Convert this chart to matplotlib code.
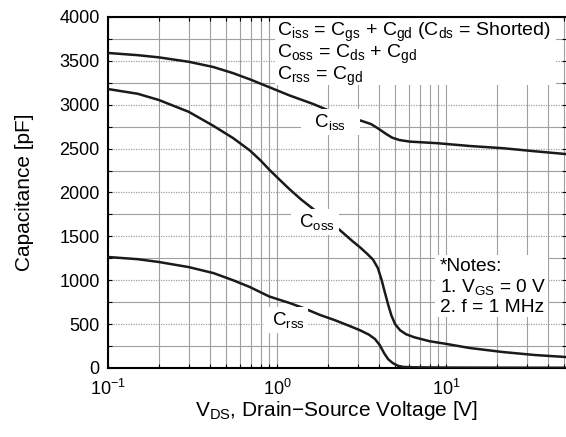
import matplotlib
matplotlib.use("Agg")
import matplotlib.pyplot as plt
from matplotlib.patches import Rectangle
from matplotlib.ticker import LogLocator, FixedLocator, NullFormatter

plt.rcParams["font.family"] = ["Liberation Sans", "DejaVu Sans"]
plt.rcParams["mathtext.fontset"] = "custom"
plt.rcParams["mathtext.rm"] = "Liberation Sans"
plt.rcParams["mathtext.it"] = "Liberation Sans"
plt.rcParams["mathtext.default"] = "regular"

# Input capacitance Ciss vs drain-source voltage
v_iss = [0.1, 0.15, 0.2, 0.3, 0.42, 0.55, 0.69, 0.9, 1.19, 1.63, 2.2, 2.7, 3.18, 3.6,
         4.0, 4.4, 4.8, 5.3, 6.1, 8.85, 13.8, 21.7, 33.5, 51.3]
c_iss = [3590, 3565, 3540, 3490, 3430, 3360, 3290, 3200, 3105, 3010, 2905, 2855, 2815, 2780,
         2725, 2670, 2625, 2598, 2580, 2562, 2530, 2505, 2470, 2438]

# Output capacitance Coss
v_oss = [0.1, 0.15, 0.2, 0.3, 0.42, 0.55, 0.69, 0.8, 0.9, 1.05, 1.19, 1.4, 1.63, 2.0, 2.36,
         2.8, 3.1, 3.4, 3.7, 3.95, 4.15, 4.35, 4.55, 4.75, 5.0, 5.35, 5.8, 6.5, 8.0, 10.0,
         13.8, 21.7, 33.5, 51.3]
c_oss = [3179, 3125, 3054, 2920, 2760, 2620, 2480, 2365, 2260, 2135, 2035, 1915, 1815, 1680, 1570,
         1445, 1375, 1305, 1235, 1140, 1010, 860, 720, 600, 500, 430, 385, 350, 305, 275,
         228, 182, 148, 125]

# Reverse transfer capacitance Crss
v_rss = [0.1, 0.15, 0.2, 0.3, 0.42, 0.55, 0.69, 0.9, 1.19, 1.43, 1.8, 2.2, 2.6, 3.1, 3.5,
         3.8, 4.06, 4.3, 4.55, 4.85, 5.2, 5.6, 6.4, 10.0, 20.0, 51.3]
c_rss = [1265, 1240, 1208, 1150, 1082, 1000, 923, 815, 740, 684, 604, 545, 490, 430, 380,
         330, 260, 170, 100, 55, 25, 12, 8, 5, 4, 3]

y_ticks = [0, 500, 1000, 1500, 2000, 2500, 3000, 3500, 4000]

fig = plt.figure(figsize=(5.66, 4.37), dpi=100)
ax = fig.add_axes([108 / 566, 69 / 437, 458 / 566, 351 / 437])

ax.set_xscale("log")
ax.set_xlim(0.1, 51.3)
ax.set_ylim(0, 4000)
ax.set_yticks(y_ticks)
ax.yaxis.set_minor_locator(FixedLocator([250, 750, 1250, 1750, 2250, 2750, 3250, 3750]))
ax.xaxis.set_major_locator(LogLocator(base=10, numticks=10))
ax.xaxis.set_minor_locator(LogLocator(base=10, subs=range(2, 10), numticks=20))
ax.xaxis.set_minor_formatter(NullFormatter())

# grid: solid vertical lines, dotted on 500 pF, solid on 250 pF
ax.grid(True, axis="x", which="both", color="#a0a0a0", lw=0.8, ls="-")
ax.grid(True, axis="y", which="major", color="#a0a0a0", lw=0.9, ls=(0, (1, 1)))
ax.grid(True, axis="y", which="minor", color="#a0a0a0", lw=0.8, ls="-")
ax.set_axisbelow(True)

ax.tick_params(which="both", direction="in", top=True, right=True, labelsize=13, length=3, width=0.8)
ax.tick_params(axis="x", pad=8)
ax.tick_params(axis="y", pad=6)
for side in ("left", "bottom", "top"):
    ax.spines[side].set_linewidth(1.5)
ax.spines["right"].set_visible(False)

for v, c in ((v_iss, c_iss), (v_oss, c_oss), (v_rss, c_rss)):
    ax.plot(v, c, color="#1a1a1a", lw=1.8, zorder=3)

label_box = dict(facecolor="white", edgecolor="none", pad=2)
ax.text(2.08, 2803, "  C$_{iss}$   ", fontsize=13.5, ha="center", va="center", bbox=label_box, zorder=4)
ax.text(1.68, 1664, " C$_{oss}$ ", fontsize=13.5, ha="center", va="center", bbox=label_box, zorder=4)
ax.text(1.13, 547, " C$_{rss}$ ", fontsize=13.5, ha="center", va="center", bbox=label_box, zorder=4)

# definitions panel
ax.add_patch(Rectangle((0.365, 0.806), 0.613, 0.19, transform=ax.transAxes,
                       facecolor="white", edgecolor="none", zorder=2))
eq_lines = [
    "C$_{iss}$ = C$_{gs}$ + C$_{gd}$ (C$_{ds}$ = Shorted)",
    "C$_{oss}$ = C$_{ds}$ + C$_{gd}$",
    "C$_{rss}$ = C$_{gd}$",
]
for i, s in enumerate(eq_lines):
    ax.text(0.370, 0.955 - i * 0.062, s, transform=ax.transAxes, fontsize=14,
            ha="left", va="center", zorder=4)

# notes panel
ax.add_patch(Rectangle((0.714, 0.145), 0.247, 0.177, transform=ax.transAxes,
                       facecolor="white", edgecolor="none", zorder=2))
notes = ["*Notes:", "1. V$_{GS}$ = 0 V", "2. f = 1 MHz"]
for i, s in enumerate(notes):
    ax.text(0.725, 0.288 - i * 0.058, s, transform=ax.transAxes, fontsize=13.8,
            ha="left", va="center", zorder=4)

ax.set_ylabel("Capacitance [pF]", fontsize=15, labelpad=18)
ax.set_xlabel("V$_{DS}$, Drain\u2212Source Voltage [V]", fontsize=15, labelpad=0)

fig.savefig("out.png", dpi=100)
